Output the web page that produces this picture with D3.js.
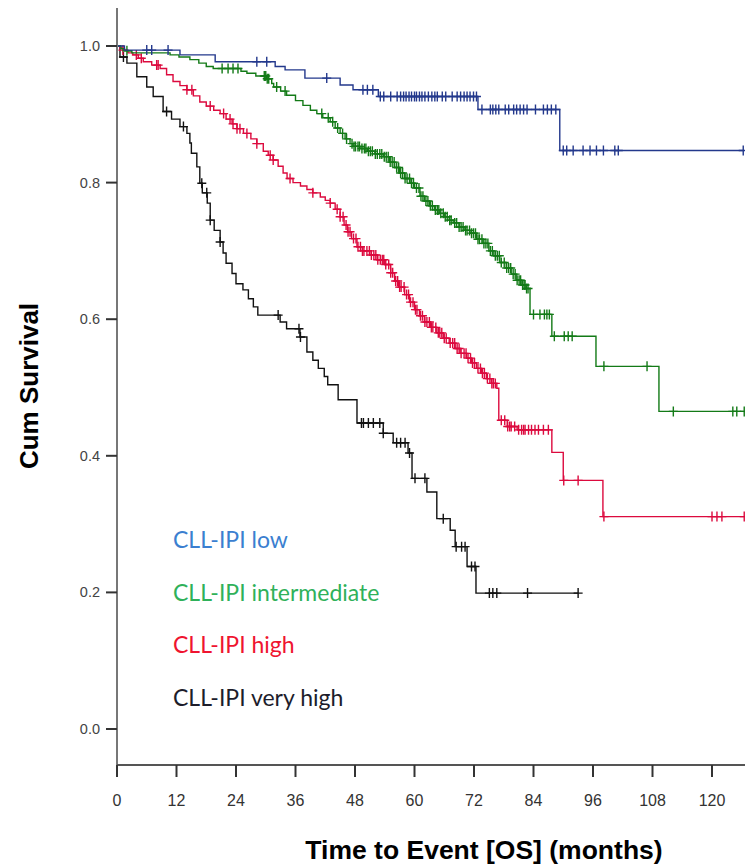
<!DOCTYPE html>
<html>
<head>
<meta charset="utf-8">
<script src="https://cdn.jsdelivr.net/npm/d3@7"></script>
<style>
  html, body { margin: 0; padding: 0; background: #fff; }
  svg { display: block; }
</style>
</head>
<body>
<svg id="chart" width="745" height="865"></svg>
<script>
// Kaplan–Meier overall survival by CLL-IPI risk group.
// Step arrays: [month, cumulative survival after the event at that month].
// Censor arrays: months at which patients were censored.

const groupNames = ["CLL-IPI low", "CLL-IPI intermediate", "CLL-IPI high", "CLL-IPI very high"];

const lowSteps = [
  [0, 1.0], [1.5, 0.994], [12.7, 0.987], [19.8, 0.977], [31.9, 0.970], [33.9, 0.965],
  [37.9, 0.953], [45.0, 0.943], [47.6, 0.936], [52.7, 0.926], [72.8, 0.907], [89.3, 0.847]
];
const lowCensored = [
  6.0, 7.0, 10.3, 28.2, 30.2, 42.3, 49.6, 50.5, 51.6,
  53.1, 53.8, 55.2, 56.5, 57.2, 57.8, 58.3, 58.9, 59.4, 60.0, 60.4, 61.0, 61.5, 62.1, 62.8,
  63.5, 64.1, 64.6, 65.6, 66.3, 67.6, 68.6, 69.3, 70.0, 70.6, 71.2, 71.9, 72.5,
  73.6, 75.3, 75.8, 76.4, 77.0, 78.3, 79.0, 80.0, 80.6, 81.3, 82.0, 82.7, 84.4, 86.0, 86.8, 87.6, 88.5,
  90.0, 90.7, 92.0, 94.0, 95.4, 96.7, 98.1, 100.4, 101.1, 126.3
];

const intermediateSteps = [
  [0, 1.0], [0.8, 0.996], [1.5, 0.993], [3.0, 0.990], [10.7, 0.987], [12.5, 0.984], [14.7, 0.980],
  [16.5, 0.975], [18.0, 0.970], [19.4, 0.967], [25.0, 0.963], [26.2, 0.960], [28.0, 0.956],
  [30.2, 0.952], [31.2, 0.945], [31.6, 0.940], [33.0, 0.934], [34.2, 0.928], [36.0, 0.920],
  [37.5, 0.913], [39.0, 0.906], [40.3, 0.901], [41.5, 0.895], [43.0, 0.889], [44.0, 0.880],
  [45.0, 0.872], [46.0, 0.864], [47.0, 0.857], [47.6, 0.853], [49.0, 0.850], [50.5, 0.846],
  [52.0, 0.842], [53.7, 0.838], [55.0, 0.830], [56.0, 0.822], [57.0, 0.814], [58.0, 0.806],
  [59.1, 0.799], [60.0, 0.792], [61.1, 0.780], [62.0, 0.773], [63.0, 0.766], [64.0, 0.760],
  [65.1, 0.755], [66.0, 0.750], [67.0, 0.745], [67.8, 0.741], [69.0, 0.735], [70.0, 0.730],
  [71.2, 0.726], [72.5, 0.717], [73.8, 0.711], [75.0, 0.700], [76.0, 0.693], [77.2, 0.683],
  [78.5, 0.675], [79.5, 0.666], [80.5, 0.657], [81.5, 0.650], [82.5, 0.645], [83.3, 0.607],
  [87.7, 0.575], [96.6, 0.531], [109.3, 0.465]
];
const intermediateCensored = [
  2.0, 21.2, 22.4, 23.4, 24.4, 29.7, 30.0, 30.3, 30.6, 32.2, 33.9, 41.3, 42.6,
  43.5, 44.5, 45.5, 46.3, 47.4, 47.8, 48.1, 48.6, 48.9, 49.4, 49.9, 50.2, 50.7, 51.1, 51.5, 52.1,
  52.5, 53.0, 53.4, 53.9, 54.3, 54.7, 55.1, 55.5, 55.9, 56.4, 56.8, 57.2, 57.6, 58.1, 58.5,
  59.0, 59.4, 59.8, 60.4, 60.9, 61.3, 61.7, 62.3, 62.7, 63.2, 63.6, 64.2, 64.6, 64.9, 65.3,
  65.8, 66.2, 66.6, 67.1, 67.4, 68.1, 68.5, 69.0, 69.4, 69.8, 70.3, 70.6, 71.1, 71.5, 71.9,
  72.3, 72.8, 73.1, 73.6, 74.0, 74.4, 74.8, 75.3, 75.7, 76.3, 76.7, 77.1, 77.5, 78.1, 78.6,
  79.0, 79.4, 79.9, 80.3, 80.7, 81.1, 81.4, 81.8, 82.1, 82.3, 82.6, 82.9,
  84.0, 85.3, 86.2, 86.7, 87.2, 88.2, 90.2, 91.0, 91.8, 98.2, 106.9, 112.2, 124.2, 125.0, 126.5
];

const highSteps = [
  [0, 1.0], [0.6, 0.997], [1.2, 0.994], [2.2, 0.990], [3.2, 0.987], [4.3, 0.982], [5.3, 0.977],
  [7.0, 0.972], [8.7, 0.967], [10.0, 0.958], [11.3, 0.948], [12.7, 0.942], [14.1, 0.936],
  [15.4, 0.927], [16.7, 0.918], [18.0, 0.912], [19.5, 0.906], [20.8, 0.901], [22.0, 0.893],
  [23.2, 0.886], [24.2, 0.879], [25.5, 0.872], [27.0, 0.864], [28.2, 0.857], [29.5, 0.846],
  [30.5, 0.840], [31.5, 0.833], [32.5, 0.824], [33.5, 0.814], [34.3, 0.806], [35.5, 0.800],
  [37.0, 0.795], [38.3, 0.790], [39.5, 0.785], [41.0, 0.779], [42.0, 0.774], [43.0, 0.770],
  [44.0, 0.761], [45.0, 0.750], [45.8, 0.738], [46.5, 0.728], [47.3, 0.718], [48.4, 0.706],
  [49.5, 0.700], [51.0, 0.694], [52.5, 0.687], [54.0, 0.680], [55.2, 0.668], [56.0, 0.656],
  [56.8, 0.647], [58.0, 0.636], [59.0, 0.625], [60.0, 0.614], [61.0, 0.605], [62.0, 0.596],
  [63.2, 0.588], [64.5, 0.580], [65.8, 0.572], [67.0, 0.565], [68.2, 0.557], [69.2, 0.550],
  [70.5, 0.543], [71.5, 0.536], [72.5, 0.528], [73.5, 0.521], [74.5, 0.513], [75.5, 0.506],
  [76.6, 0.499], [77.0, 0.452], [78.7, 0.443], [80.7, 0.438], [87.7, 0.405], [90.0, 0.364],
  [98.0, 0.311]
];
const highCensored = [
  1.2, 3.9, 4.9, 8.0, 8.3, 14.1, 15.1, 18.8, 21.5, 22.8, 23.4, 24.2, 24.8, 26.2, 28.2, 30.9,
  31.5, 34.9, 39.5, 43.0, 44.4, 45.0, 45.6, 46.2, 46.6, 47.0, 47.7, 48.2, 48.6, 49.1, 49.5, 49.8,
  50.4, 50.9, 51.3, 51.8, 52.2, 52.6, 53.1, 53.5, 53.8, 54.2, 54.8, 55.2, 55.6, 56.2, 56.6,
  57.0, 57.3, 57.9, 58.4, 58.8, 59.2, 59.7, 60.2, 60.5, 61.2, 61.6, 62.1, 62.5, 63.0, 63.4,
  63.7, 64.3, 64.8, 65.1, 65.5, 66.0, 66.4, 67.2, 67.7, 68.1, 68.6, 69.0, 69.4, 70.0, 70.4,
  70.8, 71.3, 71.7, 72.1, 72.8, 73.3, 73.7, 74.1, 74.7, 75.2, 75.6, 75.9, 76.3,
  77.5, 78.2, 78.8, 79.2, 79.5, 80.2, 81.0, 81.6, 82.0, 82.3, 83.0, 83.6, 84.3, 85.0, 86.0, 87.0,
  90.1, 93.0, 98.2, 120.0, 121.0, 122.0, 126.5
];

const veryHighSteps = [
  [0, 1.0], [0.6, 0.984], [2.0, 0.975], [4.0, 0.955], [6.0, 0.940], [7.3, 0.926], [9.3, 0.904],
  [11.0, 0.893], [12.7, 0.882], [14.1, 0.872], [14.7, 0.858], [15.0, 0.843], [16.1, 0.823],
  [16.7, 0.799], [17.2, 0.785], [18.2, 0.770], [18.8, 0.745], [19.6, 0.730], [20.8, 0.713],
  [21.4, 0.697], [22.0, 0.682], [23.2, 0.667], [24.0, 0.652], [25.4, 0.643], [26.5, 0.630],
  [27.5, 0.618], [28.4, 0.606], [32.9, 0.596], [34.2, 0.586], [36.9, 0.574], [38.3, 0.552],
  [39.5, 0.540], [40.6, 0.528], [41.8, 0.516], [42.5, 0.504], [44.6, 0.482], [48.4, 0.448],
  [53.7, 0.433], [55.7, 0.419], [58.7, 0.404], [59.5, 0.367], [62.5, 0.347], [64.5, 0.308],
  [67.2, 0.291], [68.2, 0.267], [70.6, 0.238], [72.4, 0.199]
];
const veryHighCensored = [
  1.3, 10.0, 13.4, 17.1, 18.1, 18.8, 20.8, 32.5, 36.7, 37.0, 49.3, 49.7, 50.7, 51.7, 53.0,
  53.7, 56.4, 57.2, 58.1, 59.0, 60.1, 62.1, 65.8, 68.4, 69.5, 70.2, 71.5, 72.2, 75.1, 75.8,
  76.6, 82.8, 93.0
];

const xTickValues = [0, 12, 24, 36, 48, 60, 72, 84, 96, 108, 120];
const yTickValues = [0.0, 0.2, 0.4, 0.6, 0.8, 1.0];

const lineColors = ["#23388c", "#137a17", "#dc0a3e", "#111111"];
const legendColors = ["#3b7fd0", "#2fb15a", "#ef1430", "#1d1d2b"];

const series = [
  { steps: lowSteps, censored: lowCensored },
  { steps: intermediateSteps, censored: intermediateCensored },
  { steps: highSteps, censored: highCensored },
  { steps: veryHighSteps, censored: veryHighCensored }
];

// ---- layout ----
const svg = d3.select("#chart");
const x = d3.scaleLinear().domain([0, 120]).range([117, 712]);
const y = d3.scaleLinear().domain([0, 1]).range([729, 46]);
const xMax = x.invert(745);
const yTop = y.invert(8);
const yBottom = y.invert(765);

// survival value in effect at time t (right-continuous step function)
const bis = d3.bisector(d => d[0]).right;
function survivalAt(steps, t) {
  const i = bis(steps, t) - 1;
  return steps[Math.max(0, i)][1];
}

const line = d3.line()
  .x(d => x(d[0]))
  .y(d => y(d[1]))
  .curve(d3.curveStepAfter);

const plot = svg.append("g");

// draw from very high to low so the low curve sits on top at the start
[3, 2, 1, 0].forEach(k => {
  const s = series[k];
  const end = Math.min(xMax, Math.max(d3.max(s.censored), s.steps[s.steps.length - 1][0]));
  const pts = s.steps.concat([[end, s.steps[s.steps.length - 1][1]]]);
  const g = plot.append("g");
  g.append("path")
    .attr("d", line(pts))
    .attr("fill", "none")
    .attr("stroke", lineColors[k])
    .attr("stroke-width", 1.4);
  g.selectAll("path.cens")
    .data(s.censored.filter(c => c <= xMax))
    .join("path")
    .attr("class", "cens")
    .attr("transform", c => `translate(${x(c)},${y(survivalAt(s.steps, c))})`)
    .attr("d", "M-4.5,0H4.5M0,-5V5")
    .attr("stroke", lineColors[k])
    .attr("stroke-width", 1.4)
    .attr("fill", "none");
});

// ---- axes ----
const yAxisG = svg.append("g");
yAxisG.append("line")
  .attr("x1", x(0)).attr("x2", x(0))
  .attr("y1", y(yTop)).attr("y2", y(yBottom))
  .attr("stroke", "#777").attr("stroke-width", 2);
yAxisG.selectAll("line.tick")
  .data(yTickValues).join("line")
  .attr("class", "tick")
  .attr("x1", x(0) - 11).attr("x2", x(0))
  .attr("y1", d => y(d)).attr("y2", d => y(d))
  .attr("stroke", "#333").attr("stroke-width", 2);
yAxisG.selectAll("text")
  .data(yTickValues).join("text")
  .attr("x", x(0) - 17)
  .attr("y", d => y(d))
  .attr("dy", "0.35em")
  .attr("text-anchor", "end")
  .attr("font-family", "'Liberation Sans', Arial, sans-serif")
  .attr("font-size", 14.5)
  .attr("fill", "#444")
  .text(d => d.toFixed(1));

const xAxisG = svg.append("g");
xAxisG.append("line")
  .attr("x1", x(0)).attr("x2", 745)
  .attr("y1", y(yBottom)).attr("y2", y(yBottom))
  .attr("stroke", "#555").attr("stroke-width", 2);
xAxisG.selectAll("line.tick")
  .data(xTickValues).join("line")
  .attr("class", "tick")
  .attr("x1", d => x(d)).attr("x2", d => x(d))
  .attr("y1", y(yBottom)).attr("y2", y(yBottom) + 12)
  .attr("stroke", "#333").attr("stroke-width", 2);
xAxisG.selectAll("text")
  .data(xTickValues).join("text")
  .attr("x", d => x(d))
  .attr("y", 806)
  .attr("text-anchor", "middle")
  .attr("font-family", "'Liberation Sans Narrow', 'Liberation Sans', Arial, sans-serif")
  .attr("font-size", 16)
  .attr("fill", "#333")
  .text(d => d);

// axis titles
svg.append("text")
  .attr("x", 484).attr("y", 859)
  .attr("text-anchor", "middle")
  .attr("font-family", "'Liberation Sans', Arial, sans-serif")
  .attr("font-weight", "bold")
  .attr("font-size", 26.5)
  .attr("fill", "#000")
  .text("Time to Event [OS] (months)");

svg.append("text")
  .attr("transform", "translate(38,386) rotate(-90)")
  .attr("text-anchor", "middle")
  .attr("font-family", "'Liberation Sans', Arial, sans-serif")
  .attr("font-weight", "bold")
  .attr("font-size", 26)
  .attr("fill", "#000")
  .text("Cum Survival");

// ---- legend ----
svg.append("g").selectAll("text")
  .data(groupNames).join("text")
  .attr("x", 173)
  .attr("y", (d, i) => 548 + i * 52.5)
  .attr("font-family", "Lato, 'Open Sans', sans-serif")
  .attr("font-size", 23)
  .attr("fill", (d, i) => legendColors[i])
  .text(d => d);
</script>
</body>
</html>
